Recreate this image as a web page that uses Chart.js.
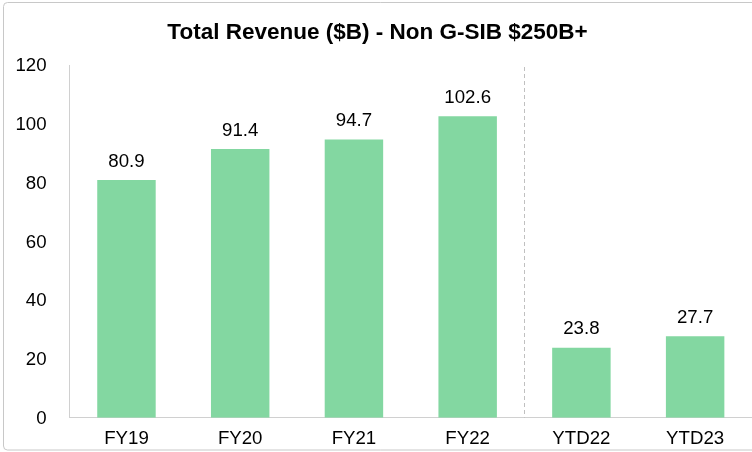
<!DOCTYPE html>
<html>
<head>
<meta charset="utf-8">
<script src="https://cdn.jsdelivr.net/npm/chart.js@4.4.1/dist/chart.umd.min.js"></script>
<style>
  html, body { margin: 0; padding: 0; background: #ffffff; }
  #wrap { width: 752px; height: 452px; position: relative; }
</style>
</head>
<body>
<div id="wrap"><canvas id="c" width="752" height="452"></canvas></div>
<script>
const categories = ["FY19", "FY20", "FY21", "FY22", "YTD22", "YTD23"];
const revenue = [80.9, 91.4, 94.7, 102.6, 23.8, 27.7];
const yTicks = [0, 20, 40, 60, 80, 100, 120];
const chartTitle = "Total Revenue ($B) - Non G-SIB $250B+";

const FONT = "'Liberation Sans', Arial, sans-serif";

const framePlugin = {
  id: 'frame',
  beforeDraw(chart) {
    const ctx = chart.ctx;
    ctx.save();
    ctx.fillStyle = '#ffffff';
    ctx.fillRect(0, 0, chart.width, chart.height);
    ctx.strokeStyle = '#c8c8c8';
    ctx.lineWidth = 1;
    const x = 3.5, y = 2.5, w = 760, h = 447.5, r = 4;
    ctx.beginPath();
    ctx.moveTo(x + w, y);
    ctx.lineTo(x + r, y);
    ctx.arcTo(x, y, x, y + r, r);
    ctx.lineTo(x, y + h - r);
    ctx.arcTo(x, y + h, x + r, y + h, r);
    ctx.lineTo(x + w, y + h);
    ctx.stroke();
    ctx.restore();
  }
};

const dividerPlugin = {
  id: 'divider',
  afterDatasetsDraw(chart) {
    const xs = chart.scales.x, area = chart.chartArea, ctx = chart.ctx;
    const px = Math.round((xs.getPixelForValue(3) + xs.getPixelForValue(4)) / 2) - 0.5;
    ctx.save();
    ctx.strokeStyle = '#c0c0c0';
    ctx.lineWidth = 1;
    ctx.setLineDash([4, 3]);
    ctx.beginPath();
    ctx.moveTo(px, area.top + 2);
    ctx.lineTo(px, area.bottom);
    ctx.stroke();
    ctx.restore();
  }
};

const valueLabelPlugin = {
  id: 'valueLabels',
  afterDatasetsDraw(chart) {
    const ctx = chart.ctx;
    const meta = chart.getDatasetMeta(0);
    ctx.save();
    ctx.font = '18.67px ' + FONT;
    ctx.fillStyle = '#000000';
    ctx.textAlign = 'center';
    ctx.textBaseline = 'middle';
    meta.data.forEach((bar, i) => {
      ctx.fillText(revenue[i].toFixed(1), bar.x, bar.y - 18.5);
    });
    ctx.restore();
  }
};

new Chart(document.getElementById('c'), {
  type: 'bar',
  data: {
    labels: categories,
    datasets: [{
      data: revenue,
      backgroundColor: '#83D7A1',
      borderWidth: 0,
      barPercentage: 0.514,
      categoryPercentage: 1.0
    }]
  },
  options: {
    responsive: false,
    animation: false,
    devicePixelRatio: 1,
    layout: { padding: { left: 0, right: -3, top: 0, bottom: 0 } },
    plugins: {
      legend: { display: false },
      tooltip: { enabled: false },
      title: {
        display: true,
        text: chartTitle,
        color: '#000000',
        font: { family: FONT, size: 22.5, weight: 'bold' },
        padding: { top: 19, bottom: 19 }
      }
    },
    scales: {
      x: {
        grid: { display: false, drawTicks: false },
        border: { display: true, color: '#d0d0d0', width: 1 },
        ticks: { color: '#000000', font: { family: FONT, size: 18.67 }, padding: 10, maxRotation: 0 },
        afterFit(scale) { scale.height = 32.5; }
      },
      y: {
        min: 0,
        max: 120,
        grid: { display: false, drawTicks: false },
        border: { display: true, color: '#d0d0d0', width: 1 },
        afterBuildTicks(scale) { scale.ticks = yTicks.map(v => ({ value: v })); },
        ticks: { color: '#000000', font: { family: FONT, size: 18.67 }, padding: 23, labelOffset: 1 },
        afterFit(scale) { scale.width = 69.6; }
      }
    }
  },
  plugins: [framePlugin, dividerPlugin, valueLabelPlugin]
});
</script>
</body>
</html>
